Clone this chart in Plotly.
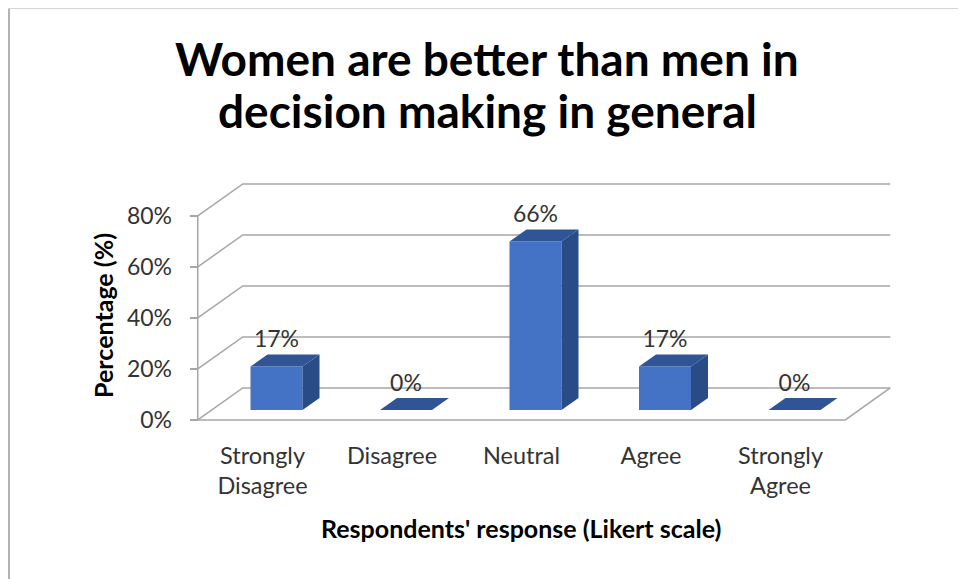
import plotly.graph_objects as go

# ---------------- data ----------------
categories = ["Strongly<br>Disagree", "Disagree", "Neutral", "Agree", "Strongly<br>Agree"]
values = [17, 0, 66, 17, 0]
value_labels = ["17%", "0%", "66%", "17%", "0%"]
tick_values = [0, 20, 40, 60, 80]
tick_labels = ["0%", "20%", "40%", "60%", "80%"]
title_lines = ["Women are better than men in", "decision making in general"]

# ---------------- geometry / style ----------------
OFF = 8                        # page body margin compensation
W, H = 966 - OFF, 579 - OFF
SX, SY = 129.5, 2.55           # px per category unit, px per percent
X0PX, Y0PX = 262.5 - OFF, 420.0 - OFF   # pixel of x=0 / y=0 on front plane

XR = [(190 - OFF - X0PX) / SX, (905 - OFF - X0PX) / SX]
YR = [-2.0, 98.0]
ML = X0PX + SX * XR[0]
MR = W - (X0PX + SX * XR[1])
MT = Y0PX - SY * YR[1]
MB = H - (Y0PX - SY * YR[0])
PW = W - ML - MR
PH = H - MT - MB

def dx(p):  # px offset -> x units
    return p / SX
def dy(p):  # px offset -> y units
    return p / SY
def pxp(p):  # reference pixel -> paper x
    return (p - OFF - ML) / PW
def pyp(p):  # reference pixel -> paper y
    return (H - MB - (p - OFF)) / PH

BW = dx(52)                     # bar width
BX, BY = dx(14), dy(10)         # bar plane offset from front plane
DBX, DBY = dx(17), dy(12)       # bar depth
DX, DY = dx(45), dy(32)         # floor / wall depth
XL, XRF = -0.5, len(categories) - 0.5
YTOP = tick_values[-1]
LBL = dy(25)

FRONT = "#4472C4"
TOP = "#2F5597"
SIDE = "#294B86"
GRID = "#A6A6A6"
TXT = "#333333"
FONT = "Lato"

fig = go.Figure()

# front faces
xs = [i + BX for i in range(len(values))]
fig.add_trace(go.Bar(x=xs, y=values, base=BY, width=BW,
                     marker=dict(color=FRONT, line=dict(width=0)),
                     hoverinfo="skip", showlegend=False))

# top and side faces
tx, ty, sx_, sy_ = [], [], [], []
for i, v in enumerate(values):
    xl = i + BX - BW / 2
    xr = i + BX + BW / 2
    yt = BY + v
    tx += [xl, xr, xr + DBX, xl + DBX, xl, None]
    ty += [yt, yt, yt + DBY, yt + DBY, yt, None]
    if v > 0:
        sx_ += [xr, xr + DBX, xr + DBX, xr, xr, None]
        sy_ += [BY, BY + DBY, yt + DBY, yt, BY, None]
fig.add_trace(go.Scatter(x=sx_, y=sy_, fill="toself", fillcolor=SIDE, mode="lines",
                         line=dict(width=0, color=SIDE), hoverinfo="skip", showlegend=False))
fig.add_trace(go.Scatter(x=tx, y=ty, fill="toself", fillcolor=TOP, mode="lines",
                         line=dict(width=0, color=TOP), hoverinfo="skip", showlegend=False))

# data labels
fig.add_trace(go.Scatter(x=xs, y=[BY + v + LBL for v in values], mode="text",
                         text=value_labels, textposition="middle center",
                         textfont=dict(family=FONT, size=23, color=TXT),
                         cliponaxis=False, hoverinfo="skip", showlegend=False))

# walls, floor and gridlines
shapes = []
for v in tick_values:
    shapes.append(dict(type="path", xref="x", yref="y", layer="below",
                       path=f"M{XL},{v} L{XL + DX},{v + DY} L{XRF + DX},{v + DY}",
                       line=dict(color=GRID, width=1.5)))
shapes.append(dict(type="path", xref="x", yref="y", layer="below",
                   path=f"M{XL},0 L{XRF},0 L{XRF + DX},{DY}",
                   line=dict(color=GRID, width=1.5)))
shapes.append(dict(type="line", xref="x", yref="y", layer="below",
                   x0=XL, x1=XL, y0=0, y1=YTOP, line=dict(color=GRID, width=1.5)))
# chart-area border (left & top), clamped to the figure edge
shapes.append(dict(type="line", xref="paper", yref="paper", x0=pxp(OFF + 1), x1=pxp(OFF + 1),
                   y0=pyp(OFF + 0.5), y1=pyp(600), line=dict(color="#9A9A9A", width=1.5)))
shapes.append(dict(type="line", xref="paper", yref="paper", x0=pxp(OFF + 1), x1=pxp(1000),
                   y0=pyp(OFF + 0.5), y1=pyp(OFF + 0.5), line=dict(color="#D0D0D0", width=1)))

annotations = [
    dict(text=f"<b>{title_lines[0]}</b>", xref="paper", yref="paper", x=pxp(487), y=pyp(59),
         showarrow=False, font=dict(family=FONT, size=46, color="black"),
         xanchor="center", yanchor="middle"),
    dict(text=f"<b>{title_lines[1]}</b>", xref="paper", yref="paper", x=pxp(487), y=pyp(111),
         showarrow=False, font=dict(family=FONT, size=46, color="black"),
         xanchor="center", yanchor="middle"),
    dict(text="<b>Percentage (%)</b>", xref="paper", yref="paper", x=pxp(103), y=pyp(316),
         showarrow=False, textangle=-90, font=dict(family=FONT, size=25, color="black"),
         xanchor="center", yanchor="middle"),
    dict(text="<b>Respondents' response (Likert scale)</b>", xref="paper", yref="paper",
         x=pxp(521), y=pyp(528), showarrow=False,
         font=dict(family=FONT, size=25, color="black"), xanchor="center", yanchor="middle"),
]

fig.update_layout(
    width=W, height=H,
    margin=dict(l=ML, r=MR, t=MT, b=MB, pad=0),
    paper_bgcolor="white", plot_bgcolor="white",
    shapes=shapes, annotations=annotations,
    showlegend=False, barmode="overlay",
    font=dict(family=FONT, color=TXT),
)
fig.update_xaxes(range=XR, showgrid=False, zeroline=False, showline=False,
                 tickvals=list(range(len(categories))), ticktext=categories,
                 ticks="", ticklabelstandoff=14,
                 tickfont=dict(family=FONT, size=23.5, color=TXT), fixedrange=True)
fig.update_yaxes(range=YR, showgrid=False, zeroline=False, showline=False,
                 tickvals=tick_values, ticktext=tick_labels,
                 ticks="inside", ticklen=8, tickwidth=1.5, tickcolor=GRID,
                 ticklabelstandoff=17,
                 tickfont=dict(family=FONT, size=23, color=TXT), fixedrange=True)

fig.write_html("out.html")
